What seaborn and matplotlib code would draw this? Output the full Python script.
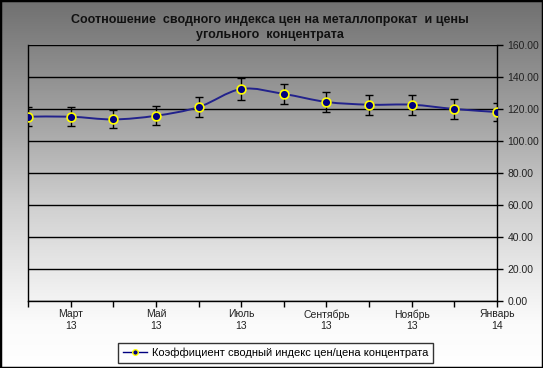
import matplotlib
matplotlib.use('Agg')
import matplotlib.pyplot as plt
from matplotlib.colors import LinearSegmentedColormap
from matplotlib.lines import Line2D
from matplotlib.path import Path
from matplotlib.patches import PathPatch, Rectangle
import seaborn as sns
import numpy as np
import pandas as pd

# data
months = ['Февраль 13', 'Март 13', 'Апрель 13', 'Май 13', 'Июнь 13', 'Июль 13',
          'Август 13', 'Сентябрь 13', 'Октябрь 13', 'Ноябрь 13', 'Декабрь 13', 'Январь 14']
tick_labels = ['', 'Март\n13', '', 'Май\n13', '', 'Июль\n13',
               '', 'Сентябрь\n13', '', 'Ноябрь\n13', '', 'Январь\n14']
ratio = [115.2, 115.2, 113.5, 115.8, 121.2, 132.5, 129.4, 124.4, 122.7, 122.7, 120.0, 118.1]
err_pct = 5
y_ticks = [0, 20, 40, 60, 80, 100, 120, 140, 160]

title = 'Соотношение  сводного индекса цен на металлопрокат  и цены\nугольного  концентрата'
series_name = 'Коэффициент сводный индекс цен/цена концентрата'

df = pd.DataFrame({'month': months, 'pos': np.arange(len(months)), 'ratio': ratio})
df['err'] = df['ratio'] * err_pct / 100

plt.rcParams['font.family'] = ['Liberation Sans', 'DejaVu Sans']

fig = plt.figure(figsize=(5.43, 3.68), dpi=100)

# gradient background over the whole figure (white at the bottom, grey at the top)
bg = fig.add_axes([0, 0, 1, 1], zorder=-1)
cmap = LinearSegmentedColormap.from_list('bg', [(0, '#ffffff'), (0.12, '#fbfbfb'),
                                                (0.22, '#efefef'), (0.44, '#d0d0d0'),
                                                (0.66, '#a6a6a6'), (1, '#707070')])
bg.imshow(np.linspace(0, 1, 256).reshape(-1, 1), aspect='auto', cmap=cmap,
          origin='lower', extent=[0, 1, 0, 1])
bg.add_patch(Rectangle((0, 0), 1, 1, fill=False, edgecolor='black', lw=2.5,
                       transform=bg.transAxes))
bg.set_xlim(0, 1)
bg.set_ylim(0, 1)
bg.axis('off')

ax = fig.add_axes([0.0516, 0.182, 0.8637, 0.6957])
ax.set_facecolor('none')

# smoothed line (excel style) built as bezier path from the data points
x = df['pos'].to_numpy(dtype=float)
y = df['ratio'].to_numpy(dtype=float)
verts = [(x[0], y[0])]
codes = [Path.MOVETO]
for i in range(len(x) - 1):
    x0, y0 = (x[i - 1], y[i - 1]) if i > 0 else (x[i], y[i])
    x3, y3 = (x[i + 2], y[i + 2]) if i + 2 < len(x) else (x[i + 1], y[i + 1])
    c1 = (x[i] + (x[i + 1] - x0) / 6, y[i] + (y[i + 1] - y0) / 6)
    c2 = (x[i + 1] - (x3 - x[i]) / 6, y[i + 1] - (y3 - y[i]) / 6)
    verts += [c1, c2, (x[i + 1], y[i + 1])]
    codes += [Path.CURVE4] * 3
ax.add_patch(PathPatch(Path(verts, codes), facecolor='none', edgecolor='#22228c',
                       lw=1.4, zorder=3))

ax.errorbar(df['pos'], df['ratio'], yerr=df['err'], fmt='none', ecolor='black',
            elinewidth=1, capsize=3, capthick=1, zorder=4)
sns.scatterplot(data=df, x='pos', y='ratio', ax=ax, s=40, color='#000080',
                edgecolor='#ffff00', linewidth=1.2, zorder=5, legend=False)

ax.set_xlim(0, len(months) - 1)
ax.set_ylim(0, 160)
ax.set_xticks(df['pos'])
ax.set_xticklabels(tick_labels, fontsize=7.5, color='#222222')
ax.set_yticks(y_ticks)
ax.set_yticklabels([f'{v:.2f}' for v in y_ticks], fontsize=7.5, color='#222222')
ax.yaxis.tick_right()
ax.tick_params(axis='both', direction='out', length=4, width=1, color='black')
ax.tick_params(axis='x', pad=2)
ax.set_xlabel('')
ax.set_ylabel('')
ax.grid(axis='y', color='black', lw=1)
ax.set_axisbelow(True)
for side in ['left', 'right', 'bottom']:
    ax.spines[side].set_color('black')
    ax.spines[side].set_linewidth(1)
ax.spines['top'].set_visible(False)

fig.text(0.497, 0.925, title, ha='center', va='center', fontsize=9,
         fontweight='bold', color='#111111', linespacing=1.35)

handle = Line2D([], [], color='#000080', lw=1, marker='o', markersize=4,
                markerfacecolor='#000080', markeredgecolor='#ffff00')
leg = fig.legend([handle], [series_name], loc='center', bbox_to_anchor=(0.507, 0.041),
                 fontsize=8, frameon=True, fancybox=False, edgecolor='black',
                 facecolor='none', handlelength=2.2, handletextpad=0.4,
                 borderpad=0.45, borderaxespad=0)
leg.get_frame().set_linewidth(1)

fig.savefig('out.png', dpi=100)
